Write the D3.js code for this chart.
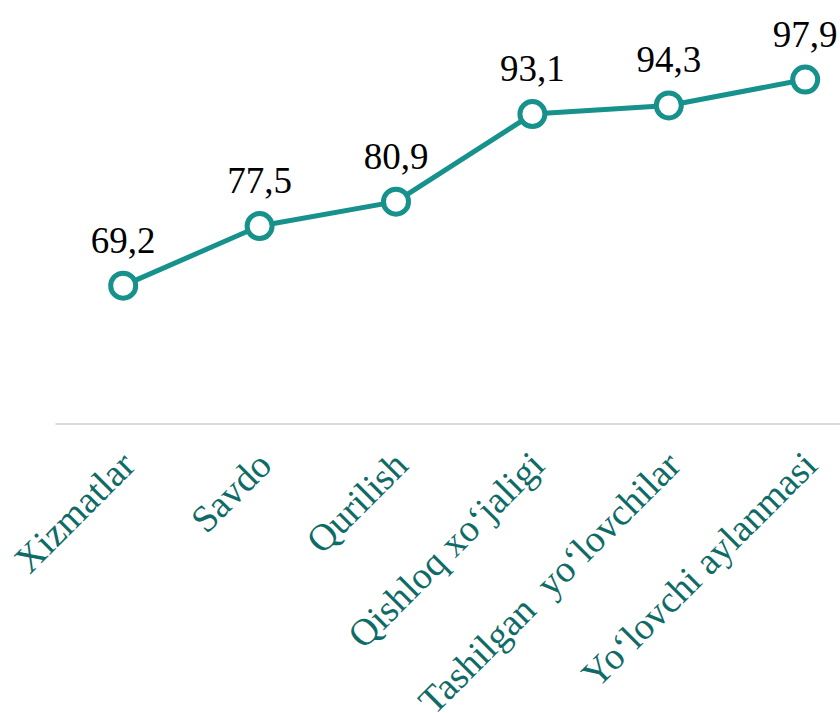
<!DOCTYPE html>
<html lang="en">

<head>
    <meta charset="UTF-8">
    <title>Line chart</title>
    <script src="https://d3js.org/d3.v7.min.js"></script>
    <style>
        body {
            margin: 0;
            background: #fff;
        }

        svg {
            display: block;
        }

        text {
            font-family: 'Liberation Serif', 'Times New Roman', serif;
            white-space: pre;
        }
    </style>
</head>

<body>
    <div id="chart"></div>

    <script>
        // categories and values
        const categories = ["Xizmatlar", "Savdo", "Qurilish", "Qishloq xo\u2018jaligi",
            "Tashilgan  yo\u2018lovchilar", "Yo\u2018lovchi aylanmasi"];
        const values = [69.2, 77.5, 80.9, 93.1, 94.3, 97.9];
        const valueLabels = ["69,2", "77,5", "80,9", "93,1", "94,3", "97,9"];

        const width = 840, height = 713;
        const lineColor = "#17918c";

        const svg = d3.select("#chart").append("svg")
            .attr("width", width)
            .attr("height", height);

        // band scale, axis starts at x=55
        const x = d3.scaleBand()
            .domain(categories)
            .range([55, 55 + 6 * 136.4])
            .paddingInner(0)
            .paddingOuter(0);

        const y = d3.scaleLinear()
            .domain([50, 100])
            .range([423.5, 64.5]);

        const cx = d => x(d) + x.bandwidth() / 2;

        // x axis
        const xAxis = svg.append("g")
            .attr("transform", `translate(0,${y(50)})`)
            .call(d3.axisBottom(x).tickSize(0).tickPadding(0));

        xAxis.select(".domain")
            .attr("stroke", "#d9d9d9")
            .attr("stroke-width", 2);

        xAxis.selectAll(".tick text")
            .attr("fill", "#0f6b67")
            .style("font-size", "38px")
            .attr("text-anchor", "end")
            .attr("x", 0)
            .attr("y", 0)
            .attr("dy", 0)
            .attr("transform", "translate(14,44) rotate(-45)");

        // line
        const line = d3.line()
            .x((d, i) => cx(categories[i]))
            .y(d => y(d));

        svg.append("path")
            .datum(values)
            .attr("fill", "none")
            .attr("stroke", lineColor)
            .attr("stroke-width", 5)
            .attr("stroke-linejoin", "round")
            .attr("d", line);

        // markers
        svg.selectAll(".dot")
            .data(values)
            .enter().append("circle")
            .attr("class", "dot")
            .attr("cx", (d, i) => cx(categories[i]))
            .attr("cy", d => y(d))
            .attr("r", 12.5)
            .attr("fill", "#fff")
            .attr("stroke", lineColor)
            .attr("stroke-width", 5);

        // value labels
        svg.selectAll(".val")
            .data(values)
            .enter().append("text")
            .attr("class", "val")
            .attr("x", (d, i) => cx(categories[i]))
            .attr("y", d => y(d) - 33)
            .attr("text-anchor", "middle")
            .attr("fill", "#000")
            .style("font-size", "37px")
            .text((d, i) => valueLabels[i]);
    </script>
</body>

</html>
